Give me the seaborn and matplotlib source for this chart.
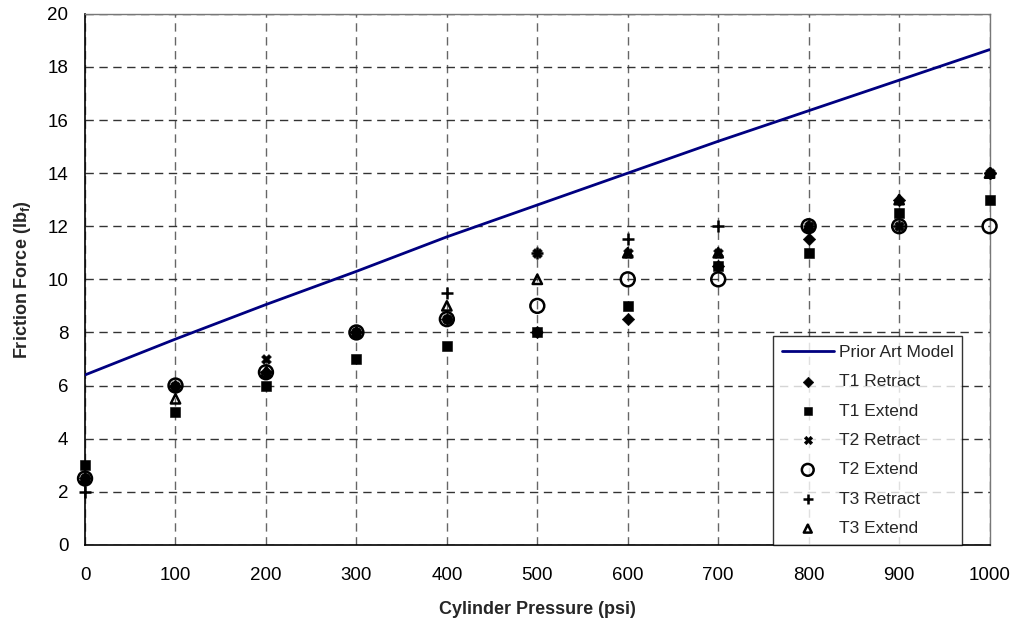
import matplotlib
matplotlib.use("Agg")
import matplotlib.pyplot as plt
import seaborn as sns
import pandas as pd
import numpy as np

pressure = [0, 100, 200, 300, 400, 500, 600, 700, 800, 900, 1000]
model = [6.4, 7.75, 9.05, 10.3, 11.6, 12.8, 14.0, 15.2, 16.35, 17.5, 18.65]
t1_retract = [2.5, 6, 6.5, 8, 8.5, 8, 8.5, 10.5, 11.5, 13, 14]
t1_extend = [3, 5, 6, 7, 7.5, 8, 9, 10.5, 11, 12.5, 13]
t2_retract = [2.5, 6, 7, 8, 8.5, 11, 11, 11, 12, 12, 14]
t2_extend = [2.5, 6, 6.5, 8, 8.5, 9, 10, 10, 12, 12, 12]
t3_retract = [2, 6, 6.5, 8, 9.5, 11, 11.5, 12, 12, 12, 14]
t3_extend = [2.5, 5.5, 6.5, 8, 9, 10, 11, 11, 12, 13, 14]

sns.set_style("white")
plt.rcParams['font.family'] = ['Liberation Sans', 'DejaVu Sans']
plt.rcParams['mathtext.fontset'] = 'custom'
plt.rcParams['mathtext.rm'] = 'Liberation Sans'
plt.rcParams['mathtext.bf'] = 'Liberation Sans:bold'

fig = plt.figure(figsize=(10.16, 6.27), dpi=100)
ax = fig.add_axes([0.0837, 0.131, 0.8903, 0.847])

sns.lineplot(x=pressure, y=model, ax=ax, color='#000080', linewidth=2,
             label='Prior Art Model', zorder=3)

series = [
    ('T1 Retract', t1_retract, 'D', 'black', 40),
    ('T1 Extend', t1_extend, 's', 'black', 55),
    ('T2 Retract', t2_retract, 'X', 'black', 50),
    ('T2 Extend', t2_extend, 'o', 'none', 100),
    ('T3 Retract', t3_retract, '+', 'black', 65),
    ('T3 Extend', t3_extend, '^', 'none', 45),
]
for name, vals, mk, fc, sz in series:
    kw = dict(x=pressure, y=vals, ax=ax, marker=mk, s=sz, label=name,
              zorder=4, clip_on=False)
    if fc == 'none':
        sns.scatterplot(**kw, facecolors='none', edgecolors='black', linewidth=1.8)
    elif mk == '+':
        sns.scatterplot(**kw, color='black', linewidth=1.8)
    else:
        sns.scatterplot(**kw, color='black', linewidth=0.4, edgecolor='black')

ax.set_xlim(0, 1000)
ax.set_ylim(0, 20)
ax.set_xticks(range(0, 1001, 100))
ax.set_yticks(range(0, 21, 2))
ax.xaxis.grid(True, linestyle=(0, (6, 4)), color='#666666', linewidth=1)
ax.yaxis.grid(True, linestyle=(0, (6, 4)), color='#333333', linewidth=1)
ax.set_axisbelow(True)
for s in ['left', 'bottom']:
    ax.spines[s].set_color('black')
    ax.spines[s].set_linewidth(1.2)
for s in ['top', 'right']:
    ax.spines[s].set_color('#777777')
    ax.spines[s].set_linewidth(1)
ax.tick_params(axis='both', direction='out', length=6, width=1, colors='black',
               labelsize=13.5, pad=6)
ax.tick_params(axis='x', pad=10)
ax.set_xlabel('Cylinder Pressure (psi)', fontsize=13, fontweight='bold', labelpad=12)
ax.set_ylabel(r'Friction Force (lb$_\mathbf{f}$)', fontsize=13, fontweight='bold', labelpad=10)

leg = ax.legend(loc='lower right', bbox_to_anchor=(0.97, 0.0), frameon=True,
                fancybox=False, edgecolor='black', fontsize=12.5,
                handlelength=3.0, labelspacing=0.82, borderpad=0.5,
                handletextpad=0.3, borderaxespad=0, markerscale=0.85)
leg.get_frame().set_linewidth(1)
leg.set_zorder(5)

fig.savefig('out.png', dpi=100)
